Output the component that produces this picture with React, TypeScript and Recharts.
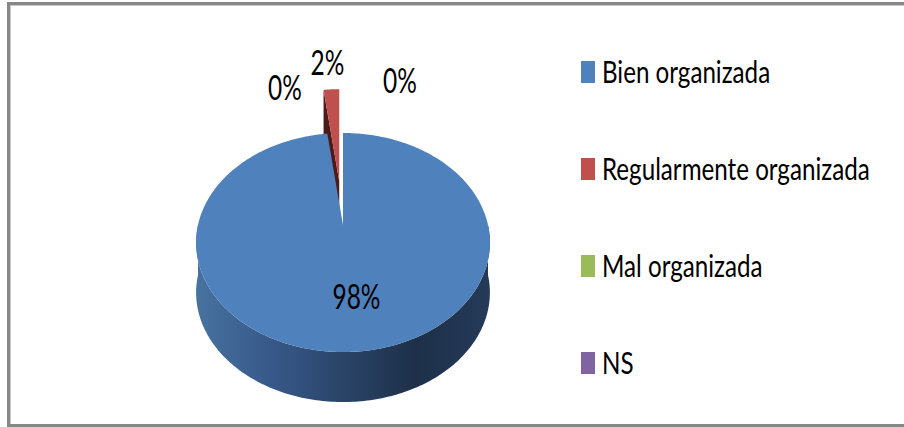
import { Cell, Legend, Pie, PieChart } from "recharts";

// values
const categories = ["Bien organizada", "Regularmente organizada", "Mal organizada", "NS"];
const shares = [98, 2, 0, 0];

const COLORS = ["#4f81bd", "#c0504d", "#9bbb59", "#8064a2"];
const SIDE_DARK = ["#2b4669", "#4e1a19", "#56692f", "#46385b"];
const BLUE_SIDE_STOPS = ["#47729f", "#37598a", "#2a4468", "#1e3049", "#243a58"];

// 3D look: perspective-ish ellipse, wall depth, exploded slices (px)
const RY_RATIO = 0.736;
const PERSP = 0.16;
const DEPTH = 50;
const EXPLODE = [0, 44, 0, 0];
const LABEL_R = [0.55, 1.25, 1.25, 1.25];
const LABEL_NUDGE: [number, number][] = [
  [8, 7],
  [-6, -52],
  [-58, -27],
  [57, -34],
];
const SX = 0.72;
const LEGEND_SX = 0.78;
const FONT = "Lato, 'Open Sans', sans-serif";

const data = categories.map((name, i) => ({ name, value: shares[i] }));

function proj(cx: number, cy: number, r: number, a: number, f: number): [number, number] {
  const t = (a * Math.PI) / 180;
  const u = f * Math.cos(t);
  const v = -f * Math.sin(t);
  const d = 1 - PERSP * v;
  return [cx + (r * u) / d, cy + (r * RY_RATIO * v) / d];
}

function sweep(start: number, end: number): number[] {
  const n = Math.max(2, Math.ceil(Math.abs(end - start)) + 1);
  const out: number[] = [];
  for (let i = 0; i < n; i++) out.push(start + ((end - start) * i) / (n - 1));
  // exact horizontal extremes so the wall reaches the edge
  const lo = Math.min(start, end);
  const hi = Math.max(start, end);
  for (let k = Math.ceil(lo / 180) * 180; k <= hi; k += 180) out.push(k);
  return out.sort((a, b) => (end < start ? b - a : a - b));
}

function offsetOf(p: any): [number, number] {
  const e = EXPLODE[p.index] ?? 0;
  if (!e) return [0, 0];
  const [mx, my] = proj(p.cx, p.cy, p.outerRadius, p.midAngle, 1);
  const dx = mx - p.cx;
  const dy = my - p.cy;
  const len = Math.hypot(dx, dy) || 1;
  return [(dx / len) * e, (dy / len) * e];
}

const pts = (list: [number, number][]) => list.map((q) => `${q[0].toFixed(2)},${q[1].toFixed(2)}`).join(" L ");

function TopShape(p: any) {
  const { cx, cy, outerRadius, startAngle, endAngle, fill } = p;
  if (Math.abs(startAngle - endAngle) < 0.01) return <g />;
  const [ox, oy] = offsetOf(p);
  const arc = sweep(startAngle, endAngle).map((a) => {
    const [x, y] = proj(cx, cy, outerRadius, a, 1);
    return [x + ox, y + oy] as [number, number];
  });
  return <path d={`M ${pts([[cx + ox, cy + oy], ...arc])} Z`} fill={fill} stroke="none" />;
}

function SideShape(p: any) {
  const { cx, cy, outerRadius, startAngle, endAngle, index } = p;
  if (Math.abs(startAngle - endAngle) < 0.01) return <g />;
  const [ox, oy] = offsetOf(p);
  const at = (a: number, f: number, down: number): [number, number] => {
    const [x, y] = proj(cx, cy, outerRadius, a, f);
    return [x + ox, y + oy + down];
  };
  const gid = `side-grad-${index}`;
  const stops = index === 0 ? BLUE_SIDE_STOPS : [SIDE_DARK[index], SIDE_DARK[index]];

  // outer wall: only the front half (sin < 0) is visible
  const segs: number[][] = [];
  let cur: number[] = [];
  for (const a of sweep(startAngle, endAngle)) {
    if (Math.sin((a * Math.PI) / 180) <= 1e-9) cur.push(a);
    else if (cur.length) {
      segs.push(cur);
      cur = [];
    }
  }
  if (cur.length) segs.push(cur);

  const faces: [number, number][][] = [];
  if (EXPLODE[index]) {
    for (const e of [startAngle, endAngle]) {
      faces.push([at(e, 0, 0), at(e, 1, 0), at(e, 1, DEPTH), at(e, 0, DEPTH)]);
    }
  }

  return (
    <g>
      <defs>
        <linearGradient id={gid} gradientUnits="userSpaceOnUse" x1={cx - outerRadius} y1={0} x2={cx + outerRadius} y2={0}>
          {stops.map((c, i) => (
            <stop key={i} offset={i / (stops.length - 1)} stopColor={c} />
          ))}
        </linearGradient>
      </defs>
      {faces.map((f, i) => (
        <path key={`f${i}`} d={`M ${pts(f)} Z`} fill={SIDE_DARK[index]} stroke="none" />
      ))}
      {segs
        .filter((s) => s.length > 1)
        .map((s, i) => {
          const top = s.map((a) => at(a, 1, 0));
          const bottom = [...s].reverse().map((a) => at(a, 1, DEPTH));
          return <path key={`w${i}`} d={`M ${pts([...top, ...bottom])} Z`} fill={`url(#${gid})`} stroke="none" />;
        })}
    </g>
  );
}

function renderLabel(p: any) {
  const { cx, cy, outerRadius, midAngle, index, value } = p;
  const [x, y] = proj(cx, cy, outerRadius, midAngle, LABEL_R[index]);
  const [dx, dy] = LABEL_NUDGE[index];
  return (
    <text
      transform={`translate(${x + dx},${y + dy}) scale(${SX},1)`}
      textAnchor="middle"
      dominantBaseline="central"
      fontFamily={FONT}
      fontSize={34}
      fill="#000"
    >
      {`${value}%`}
    </text>
  );
}

function renderLegend(props: any) {
  // keep the data order (the legend sorts by name otherwise)
  const items = [...(props.payload ?? [])]
    .filter((it: any) => it.type !== "none")
    .sort((a: any, b: any) => categories.indexOf(a.value) - categories.indexOf(b.value));
  return (
    <svg width={320} height={340} style={{ overflow: "visible", display: "block" }}>
      {items.map((it: any, i: number) => (
        <g key={i} transform={`translate(0,${i * 97})`}>
          <rect x={0} y={0} width={14} height={22} fill={it.color} />
          <text transform={`translate(21,22) scale(${LEGEND_SX},1)`} fontFamily={FONT} fontSize={31} fill="#000">
            {it.value}
          </text>
        </g>
      ))}
    </svg>
  );
}

export default function App() {
  return (
    <div style={{ position: "absolute", left: 0, top: 0, width: 904, height: 427, background: "#fff", overflow: "hidden" }}>
      <div
        style={{
          position: "absolute",
          left: 7,
          top: 2,
          width: 920,
          height: 419,
          borderLeft: "3px solid #878787",
          borderTop: "3px solid #878787",
          borderBottom: "3px solid #878787",
          boxShadow: "inset 1px 1px 0 #c9c9c9",
        }}
      />
      <div style={{ position: "absolute", left: 0, top: 0 }}>
        <PieChart width={904} height={427}>
          <Pie
            data={data}
            dataKey="value"
            nameKey="name"
            cx={338}
            cy={220}
            outerRadius={145}
            startAngle={90}
            endAngle={-270}
            stroke="none"
            legendType="none"
            shape={SideShape}
            isAnimationActive={false}
          >
            {data.map((d, i) => (
              <Cell key={d.name} fill={COLORS[i]} />
            ))}
          </Pie>
          <Pie
            data={data}
            dataKey="value"
            nameKey="name"
            cx={338}
            cy={220}
            outerRadius={145}
            startAngle={90}
            endAngle={-270}
            stroke="none"
            shape={TopShape}
            label={renderLabel}
            labelLine={false}
            isAnimationActive={false}
          >
            {data.map((d, i) => (
              <Cell key={d.name} fill={COLORS[i]} />
            ))}
          </Pie>
          <Legend
            content={renderLegend}
            wrapperStyle={{ position: "absolute", left: 581, top: 61, width: 320, height: 340 }}
          />
        </PieChart>
      </div>
    </div>
  );
}
